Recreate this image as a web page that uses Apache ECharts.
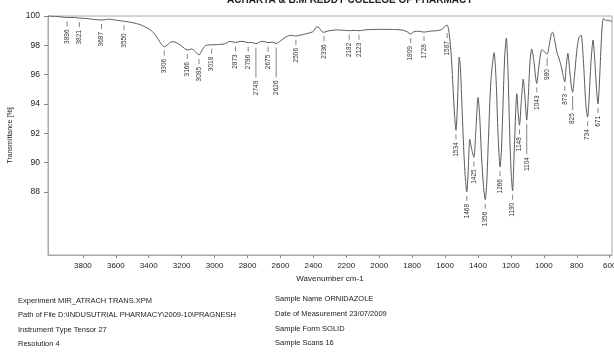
<!DOCTYPE html>
<html>
<head>
<meta charset="utf-8">
<script src="https://cdn.jsdelivr.net/npm/echarts@6/dist/echarts.min.js"></script>
<style>
  html, body { margin: 0; padding: 0; background: #fff; }
  #chart { width: 614px; height: 352px; }
</style>
</head>
<body>
<div id="chart"></div>
<script>
// Ornidazole MIR spectrum (Tensor 27), transmittance vs wavenumber
const wavenumbers = [
  4012, 3960, 3896, 3860, 3821, 3780, 3730, 3687, 3640, 3600, 3550, 3500, 3450, 3400, 3370, 3345, 3325, 3306,
  3285, 3260, 3235, 3200, 3166, 3140, 3115, 3095, 3075, 3055, 3018, 2980, 2940, 2905, 2873, 2840, 2815, 2796,
  2775, 2749, 2715, 2695, 2675, 2650, 2626, 2600, 2570, 2540, 2506, 2470, 2430, 2400, 2380, 2365, 2350, 2336,
  2310, 2260, 2220, 2182, 2150, 2123, 2080, 2000, 1920, 1860, 1830, 1809, 1790, 1760, 1728, 1690, 1650, 1620,
  1600, 1587, 1575, 1562, 1550, 1542, 1534, 1526, 1519, 1514, 1507, 1496, 1485, 1476, 1468, 1460, 1450, 1438,
  1425, 1413, 1400, 1390, 1378, 1366, 1356, 1347, 1336, 1322, 1302, 1290, 1280, 1272, 1266, 1258, 1248, 1238,
  1228, 1218, 1207, 1198, 1190, 1180, 1164, 1156, 1148, 1138, 1125, 1114, 1104, 1094, 1084, 1074, 1060, 1050,
  1043, 1033, 1020, 1012, 996, 980, 966, 955, 947, 935, 920, 911, 895, 884, 873, 864, 854, 843, 833, 825, 815,
  800, 788, 774, 760, 748, 740, 734, 726, 714, 701, 692, 680, 671, 663, 653, 645, 637, 625, 610, 597, 586
];
const transmittance = [
  100.0, 99.97, 99.9, 99.9, 99.86, 99.83, 99.76, 99.73, 99.78, 99.72, 99.64, 99.55, 99.4, 99.12, 98.85, 98.45, 98.1, 97.9,
  98.05, 98.25, 98.2, 97.95, 97.68, 97.75, 97.55, 97.34, 97.7, 97.98, 98.04, 98.05, 98.1, 98.27, 98.2, 98.27, 98.24, 98.18,
  98.2, 98.11, 98.27, 98.25, 98.18, 98.22, 98.13, 98.3, 98.55, 98.68, 98.64, 98.72, 98.83, 98.95, 99.25, 99.2, 98.95, 98.89,
  98.98, 99.05, 99.03, 99.0, 99.02, 99.0, 99.06, 99.09, 99.08, 99.04, 98.92, 98.77, 98.92, 98.96, 98.9, 98.97, 99.0, 99.08,
  99.3, 99.38, 98.8, 97.2, 94.8, 93.2, 92.2, 93.6, 96.0, 97.2, 96.5, 93.5, 90.5, 88.8, 88.0, 89.3, 91.6, 90.9,
  90.36, 92.2, 94.45, 93.2, 90.3, 88.3, 87.47, 88.6, 91.8, 95.5, 97.5, 95.6, 92.4, 90.5, 89.7, 90.8, 94.0, 97.2,
  98.5, 96.3, 91.8, 89.2, 88.08, 90.8, 94.7, 93.4, 92.55, 94.0, 95.7, 94.3, 92.9, 94.6, 96.9, 97.75, 96.9, 95.8,
  95.4, 96.3, 97.4, 97.7, 97.55, 97.4, 98.1, 98.75, 98.9, 98.4, 97.5, 97.2, 96.6, 96.0, 95.5, 96.6, 97.45, 96.3, 95.2, 94.8, 95.8,
  97.6, 98.5, 98.7, 97.0, 94.5, 93.4, 93.1, 94.2, 96.8, 98.36, 97.2, 95.0, 94.0, 95.3, 97.8, 99.4, 99.84, 99.7, 99.72, 99.65, 99.66
];

// Picked band positions (cm-1)
const peakPositions = [
  3896, 3821, 3687, 3550, 3306, 3166, 3095, 3018, 2873, 2796, 2749, 2675, 2626, 2506, 2336, 2182, 2123,
  1809, 1728, 1587, 1534, 1468, 1425, 1356, 1266, 1190, 1148, 1104, 1043, 980, 873, 825, 734, 671
];

const xTickValues = [3800, 3600, 3400, 3200, 3000, 2800, 2600, 2400, 2200, 2000, 1800, 1600, 1400, 1200, 1000, 800, 600];
const yTickValues = [88, 90, 92, 94, 96, 98, 100];

// Leader lengths (px) for the few labels that sit further below their band
const leaderLength = { 2749: 30, 2626: 30, 1104: 30, 825: 14, 980: 8 };
const leaderGap = { 1587: 8 };

const spectrum = wavenumbers.map((w, i) => [w, transmittance[i]]);
const peakData = peakPositions.map(w => {
  const i = wavenumbers.indexOf(w);
  return [w, transmittance[i]];
});

const chart = echarts.init(document.getElementById('chart'), null, { renderer: 'canvas' });

const labelFont = 'Arial, "Liberation Sans", sans-serif';
const plain = v => String(v);

chart.setOption({
  animation: false,
  backgroundColor: '#ffffff',
  grid: {
    left: 48, right: 2, top: 16, bottom: 97,
    containLabel: false,
    outerBoundsMode: 'none',
    show: true, borderColor: '#a8a8a8', borderWidth: 1, backgroundColor: 'transparent'
  },
  xAxis: {
    type: 'value',
    inverse: true,
    min: 586, max: 4012,
    name: 'Wavenumber cm-1',
    nameLocation: 'middle',
    nameGap: 17,
    nameTextStyle: { fontSize: 8, color: '#222', fontFamily: labelFont },
    axisLine: { show: true, lineStyle: { color: '#a8a8a8', width: 1 } },
    axisTick: { show: true, length: 3, customValues: xTickValues, lineStyle: { color: '#888' } },
    axisLabel: { customValues: xTickValues, formatter: plain, fontSize: 8, color: '#222', margin: 7, fontFamily: labelFont, hideOverlap: false },
    splitLine: { show: false }
  },
  yAxis: {
    type: 'value',
    min: 83.7, max: 100,
    name: 'Transmittance [%]',
    nameLocation: 'middle',
    nameGap: 34,
    nameRotate: 90,
    nameTextStyle: { fontSize: 7, color: '#222', fontFamily: labelFont },
    axisLine: { show: true, lineStyle: { color: '#a8a8a8', width: 1 } },
    axisTick: { show: true, length: 4, customValues: yTickValues, lineStyle: { color: '#888' } },
    axisLabel: { customValues: yTickValues, formatter: plain, fontSize: 8.5, color: '#222', margin: 8, fontFamily: labelFont },
    splitLine: { show: false }
  },
  series: [
    {
      type: 'line',
      data: spectrum,
      symbol: 'none',
      smooth: 0.25,
      lineStyle: { color: '#5a5a5a', width: 1 },
      silent: true
    },
    {
      // band annotations: short leader under each band and its rotated position
      type: 'custom',
      data: peakData,
      silent: true,
      clip: false,
      renderItem: function (params, api) {
        const w = api.value(0);
        const p = api.coord([w, api.value(1)]);
        const gap = leaderGap[w] !== undefined ? leaderGap[w] : 4;
        const len = leaderLength[w] !== undefined ? leaderLength[w] : 5;
        const y0 = p[1] + gap;
        const y1 = y0 + len;
        return {
          type: 'group',
          children: [
            {
              type: 'line',
              shape: { x1: p[0], y1: y0, x2: p[0], y2: y1 },
              style: { stroke: '#666', lineWidth: 0.8 }
            },
            {
              type: 'text',
              x: p[0],
              y: y1 + 3,
              rotation: Math.PI / 2,
              style: {
                text: String(w),
                fill: '#333',
                fontSize: 6.5,
                fontFamily: labelFont,
                align: 'right',
                verticalAlign: 'middle'
              }
            }
          ]
        };
      }
    }
  ],
  graphic: [
    {
      type: 'text', x: 350, y: 0.5,
      style: {
        text: 'ACHARYA & B.M REDDY COLLEGE OF PHARMACY',
        align: 'center', verticalAlign: 'middle',
        fontSize: 10, fontWeight: 'bold', fill: '#222', fontFamily: labelFont
      }
    },
    { type: 'text', x: 18, y: 301, style: { text: 'Experiment MIR_ATRACH TRANS.XPM', fontSize: 7.5, fill: '#222', verticalAlign: 'middle', fontFamily: labelFont } },
    { type: 'text', x: 18, y: 315, style: { text: 'Path of File D:\\INDUSUTRIAL PHARMACY\\2009-10\\PRAGNESH', fontSize: 7.5, fill: '#222', verticalAlign: 'middle', fontFamily: labelFont } },
    { type: 'text', x: 18, y: 330, style: { text: 'Instrument Type Tensor 27', fontSize: 7.5, fill: '#222', verticalAlign: 'middle', fontFamily: labelFont } },
    { type: 'text', x: 18, y: 344, style: { text: 'Resolution 4', fontSize: 7.5, fill: '#222', verticalAlign: 'middle', fontFamily: labelFont } },
    { type: 'text', x: 275, y: 299, style: { text: 'Sample Name ORNIDAZOLE', fontSize: 7.5, fill: '#222', verticalAlign: 'middle', fontFamily: labelFont } },
    { type: 'text', x: 275, y: 314, style: { text: 'Date of Measurement 23/07/2009', fontSize: 7.5, fill: '#222', verticalAlign: 'middle', fontFamily: labelFont } },
    { type: 'text', x: 275, y: 329, style: { text: 'Sample Form SOLID', fontSize: 7.5, fill: '#222', verticalAlign: 'middle', fontFamily: labelFont } },
    { type: 'text', x: 275, y: 343, style: { text: 'Sample Scans 16', fontSize: 7.5, fill: '#222', verticalAlign: 'middle', fontFamily: labelFont } }
  ]
});
</script>
</body>
</html>
